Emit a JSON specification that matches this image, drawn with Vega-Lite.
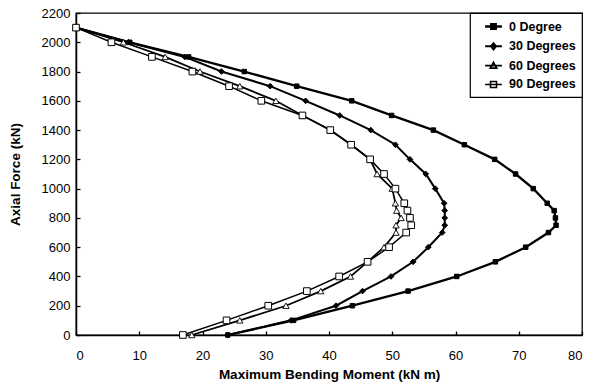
{
  "$schema": "https://vega.github.io/schema/vega-lite/v6.json",
  "width": 506,
  "height": 322,
  "autosize": {"type": "none"},
  "padding": {"left": 76, "top": 13, "right": 17, "bottom": 54},
  "background": "white",
  "config": {
    "view": {"stroke": "black", "strokeWidth": 1.3},
    "font": "Liberation Sans",
    "axis": {
      "grid": false,
      "domainColor": "black",
      "domainWidth": 1.5,
      "tickColor": "black",
      "tickWidth": 1.3,
      "tickSize": -4,
      "labelFont": "Liberation Sans",
      "labelFontSize": 13,
      "labelColor": "black",
      "titleFont": "Liberation Sans",
      "titleFontSize": 13.5,
      "titleFontWeight": "bold",
      "titleColor": "black",
      "format": "d"
    },
    "legend": {
      "orient": "top-right",
      "offset": 0,
      "strokeColor": "black",
      "strokeWidth": 1.2,
      "fillColor": "white",
      "padding": 6,
      "rowPadding": 4.8,
      "labelFont": "Liberation Sans",
      "labelFontSize": 12.5,
      "labelFontWeight": "bold",
      "labelColor": "black",
      "labelOffset": 8,
      "symbolOffset": 10,
      "symbolSize": 144
    }
  },
  "data": {
    "values": [
      {"series": "0 Degree", "moment": 0, "force": 2100},
      {"series": "0 Degree", "moment": 8.5, "force": 2000},
      {"series": "0 Degree", "moment": 17.8, "force": 1900},
      {"series": "0 Degree", "moment": 26.6, "force": 1800},
      {"series": "0 Degree", "moment": 34.9, "force": 1700},
      {"series": "0 Degree", "moment": 43.6, "force": 1600},
      {"series": "0 Degree", "moment": 49.9, "force": 1500},
      {"series": "0 Degree", "moment": 56.5, "force": 1400},
      {"series": "0 Degree", "moment": 61.4, "force": 1300},
      {"series": "0 Degree", "moment": 66.2, "force": 1200},
      {"series": "0 Degree", "moment": 69.5, "force": 1100},
      {"series": "0 Degree", "moment": 72.3, "force": 1000},
      {"series": "0 Degree", "moment": 74.5, "force": 900},
      {"series": "0 Degree", "moment": 75.6, "force": 850},
      {"series": "0 Degree", "moment": 75.8, "force": 800},
      {"series": "0 Degree", "moment": 75.9, "force": 750},
      {"series": "0 Degree", "moment": 74.7, "force": 700},
      {"series": "0 Degree", "moment": 71.1, "force": 600},
      {"series": "0 Degree", "moment": 66.3, "force": 500},
      {"series": "0 Degree", "moment": 60.2, "force": 400},
      {"series": "0 Degree", "moment": 52.5, "force": 300},
      {"series": "0 Degree", "moment": 43.7, "force": 200},
      {"series": "0 Degree", "moment": 34.4, "force": 100},
      {"series": "0 Degree", "moment": 24.0, "force": 0},
      {"series": "30 Degrees", "moment": 0, "force": 2100},
      {"series": "30 Degrees", "moment": 8.3, "force": 2000},
      {"series": "30 Degrees", "moment": 17.2, "force": 1900},
      {"series": "30 Degrees", "moment": 23.0, "force": 1800},
      {"series": "30 Degrees", "moment": 30.7, "force": 1700},
      {"series": "30 Degrees", "moment": 36.3, "force": 1600},
      {"series": "30 Degrees", "moment": 41.7, "force": 1500},
      {"series": "30 Degrees", "moment": 46.6, "force": 1400},
      {"series": "30 Degrees", "moment": 50.5, "force": 1300},
      {"series": "30 Degrees", "moment": 52.8, "force": 1200},
      {"series": "30 Degrees", "moment": 55.3, "force": 1100},
      {"series": "30 Degrees", "moment": 56.8, "force": 1000},
      {"series": "30 Degrees", "moment": 58.2, "force": 900},
      {"series": "30 Degrees", "moment": 58.3, "force": 850},
      {"series": "30 Degrees", "moment": 58.3, "force": 800},
      {"series": "30 Degrees", "moment": 58.3, "force": 750},
      {"series": "30 Degrees", "moment": 57.9, "force": 700},
      {"series": "30 Degrees", "moment": 55.7, "force": 600},
      {"series": "30 Degrees", "moment": 53.3, "force": 500},
      {"series": "30 Degrees", "moment": 49.8, "force": 400},
      {"series": "30 Degrees", "moment": 45.3, "force": 300},
      {"series": "30 Degrees", "moment": 41.1, "force": 200},
      {"series": "30 Degrees", "moment": 34.0, "force": 100},
      {"series": "30 Degrees", "moment": 24.0, "force": 0},
      {"series": "60 Degrees", "moment": 0, "force": 2100},
      {"series": "60 Degrees", "moment": 7.5, "force": 2000},
      {"series": "60 Degrees", "moment": 14.1, "force": 1900},
      {"series": "60 Degrees", "moment": 19.6, "force": 1800},
      {"series": "60 Degrees", "moment": 25.9, "force": 1700},
      {"series": "60 Degrees", "moment": 31.6, "force": 1600},
      {"series": "60 Degrees", "moment": 35.8, "force": 1500},
      {"series": "60 Degrees", "moment": 40.2, "force": 1400},
      {"series": "60 Degrees", "moment": 43.5, "force": 1300},
      {"series": "60 Degrees", "moment": 46.5, "force": 1200},
      {"series": "60 Degrees", "moment": 47.6, "force": 1100},
      {"series": "60 Degrees", "moment": 50.0, "force": 1000},
      {"series": "60 Degrees", "moment": 50.5, "force": 900},
      {"series": "60 Degrees", "moment": 50.7, "force": 850},
      {"series": "60 Degrees", "moment": 51.4, "force": 800},
      {"series": "60 Degrees", "moment": 50.6, "force": 750},
      {"series": "60 Degrees", "moment": 50.6, "force": 700},
      {"series": "60 Degrees", "moment": 48.7, "force": 600},
      {"series": "60 Degrees", "moment": 46.1, "force": 500},
      {"series": "60 Degrees", "moment": 43.4, "force": 400},
      {"series": "60 Degrees", "moment": 38.7, "force": 300},
      {"series": "60 Degrees", "moment": 33.2, "force": 200},
      {"series": "60 Degrees", "moment": 25.9, "force": 100},
      {"series": "60 Degrees", "moment": 18.3, "force": 0},
      {"series": "90 Degrees", "moment": 0, "force": 2100},
      {"series": "90 Degrees", "moment": 5.6, "force": 2000},
      {"series": "90 Degrees", "moment": 12.0, "force": 1900},
      {"series": "90 Degrees", "moment": 18.4, "force": 1800},
      {"series": "90 Degrees", "moment": 24.2, "force": 1700},
      {"series": "90 Degrees", "moment": 29.3, "force": 1600},
      {"series": "90 Degrees", "moment": 35.8, "force": 1500},
      {"series": "90 Degrees", "moment": 40.2, "force": 1400},
      {"series": "90 Degrees", "moment": 43.5, "force": 1300},
      {"series": "90 Degrees", "moment": 46.5, "force": 1200},
      {"series": "90 Degrees", "moment": 48.7, "force": 1100},
      {"series": "90 Degrees", "moment": 50.5, "force": 1000},
      {"series": "90 Degrees", "moment": 51.9, "force": 900},
      {"series": "90 Degrees", "moment": 52.4, "force": 850},
      {"series": "90 Degrees", "moment": 52.8, "force": 800},
      {"series": "90 Degrees", "moment": 53.0, "force": 750},
      {"series": "90 Degrees", "moment": 52.2, "force": 700},
      {"series": "90 Degrees", "moment": 49.5, "force": 600},
      {"series": "90 Degrees", "moment": 46.1, "force": 500},
      {"series": "90 Degrees", "moment": 41.6, "force": 400},
      {"series": "90 Degrees", "moment": 36.5, "force": 300},
      {"series": "90 Degrees", "moment": 30.4, "force": 200},
      {"series": "90 Degrees", "moment": 23.8, "force": 100},
      {"series": "90 Degrees", "moment": 16.9, "force": 0}
    ]
  },
  "encoding": {
    "x": {
      "field": "moment", "type": "quantitative",
      "scale": {"domain": [0, 80], "nice": false, "zero": false},
      "axis": {"values": [0, 10, 20, 30, 40, 50, 60, 70, 80], "title": "Maximum Bending Moment (kN m)", "labelPadding": 18, "titlePadding": 5.5}
    },
    "y": {
      "field": "force", "type": "quantitative",
      "scale": {"domain": [0, 2200], "nice": false},
      "axis": {"values": [0, 200, 400, 600, 800, 1000, 1200, 1400, 1600, 1800, 2000, 2200], "title": "Axial Force (kN)", "labelPadding": 10, "titlePadding": 19}
    }
  },
  "layer": [
    {
      "mark": {"type": "line", "color": "black"},
      "encoding": {
        "detail": {"field": "series", "type": "nominal"},
        "order": {"field": "force", "type": "quantitative"},
        "strokeWidth": {
          "field": "series", "type": "nominal",
          "scale": {"domain": ["0 Degree", "30 Degrees", "60 Degrees", "90 Degrees"], "range": [2.3, 1.5, 0.8, 1.5]},
          "legend": {
            "title": null, "orient": "top-right", "offset": 0, "strokeColor": "black", "fillColor": "white", "padding": 6,
            "symbolSize": 144, "symbolOffset": 10, "labelOffset": 8, "rowPadding": 4.8,
            "encoding": {
              "labels": {
                "text": {"value": {"expr": "datum.value == '0 Degree' ? '\u20070 Degree\u2007' : datum.value + '\u2007'"}}
              },
              "symbols": {
                "shape": {"value": {"expr": "datum.value == '0 Degree' ? 'M-1.4,0H1.4M-0.38,-0.38H0.38V0.38H-0.38Z' : datum.value == '30 Degrees' ? 'M-1.4,0H1.4M0,-0.5L0.42,0L0,0.5L-0.42,0Z' : datum.value == '60 Degrees' ? 'M-1.4,0H1.4M0,-0.55L0.52,0.42H-0.52Z' : 'M-1.4,0H1.4M-0.5,-0.5H0.5V0.5H-0.5Z'"}},
                "fill": {"value": {"expr": "datum.value == '0 Degree' || datum.value == '30 Degrees' ? 'black' : 'white'"}},
                "stroke": {"value": "black"},
                "opacity": {"value": 1}
              }
            }
          }
        }
      }
    },
    {
      "transform": [{"filter": {"field": "series", "equal": "0 Degree"}}],
      "mark": {"type": "point", "shape": "square", "filled": true, "fill": "black", "stroke": "black", "strokeWidth": 1, "size": 20, "opacity": 1}
    },
    {
      "transform": [{"filter": {"field": "series", "equal": "30 Degrees"}}],
      "mark": {"type": "point", "shape": "diamond", "filled": true, "fill": "black", "stroke": "black", "strokeWidth": 1, "size": 32, "opacity": 1}
    },
    {
      "transform": [{"filter": {"field": "series", "equal": "60 Degrees"}}],
      "mark": {"type": "point", "shape": "triangle-up", "filled": true, "fill": "white", "stroke": "black", "strokeWidth": 0.9, "size": 40, "opacity": 1}
    },
    {
      "transform": [{"filter": {"field": "series", "equal": "90 Degrees"}}],
      "mark": {"type": "point", "shape": "square", "filled": true, "fill": "white", "stroke": "black", "strokeWidth": 1, "size": 44, "opacity": 1}
    }
  ]
}
